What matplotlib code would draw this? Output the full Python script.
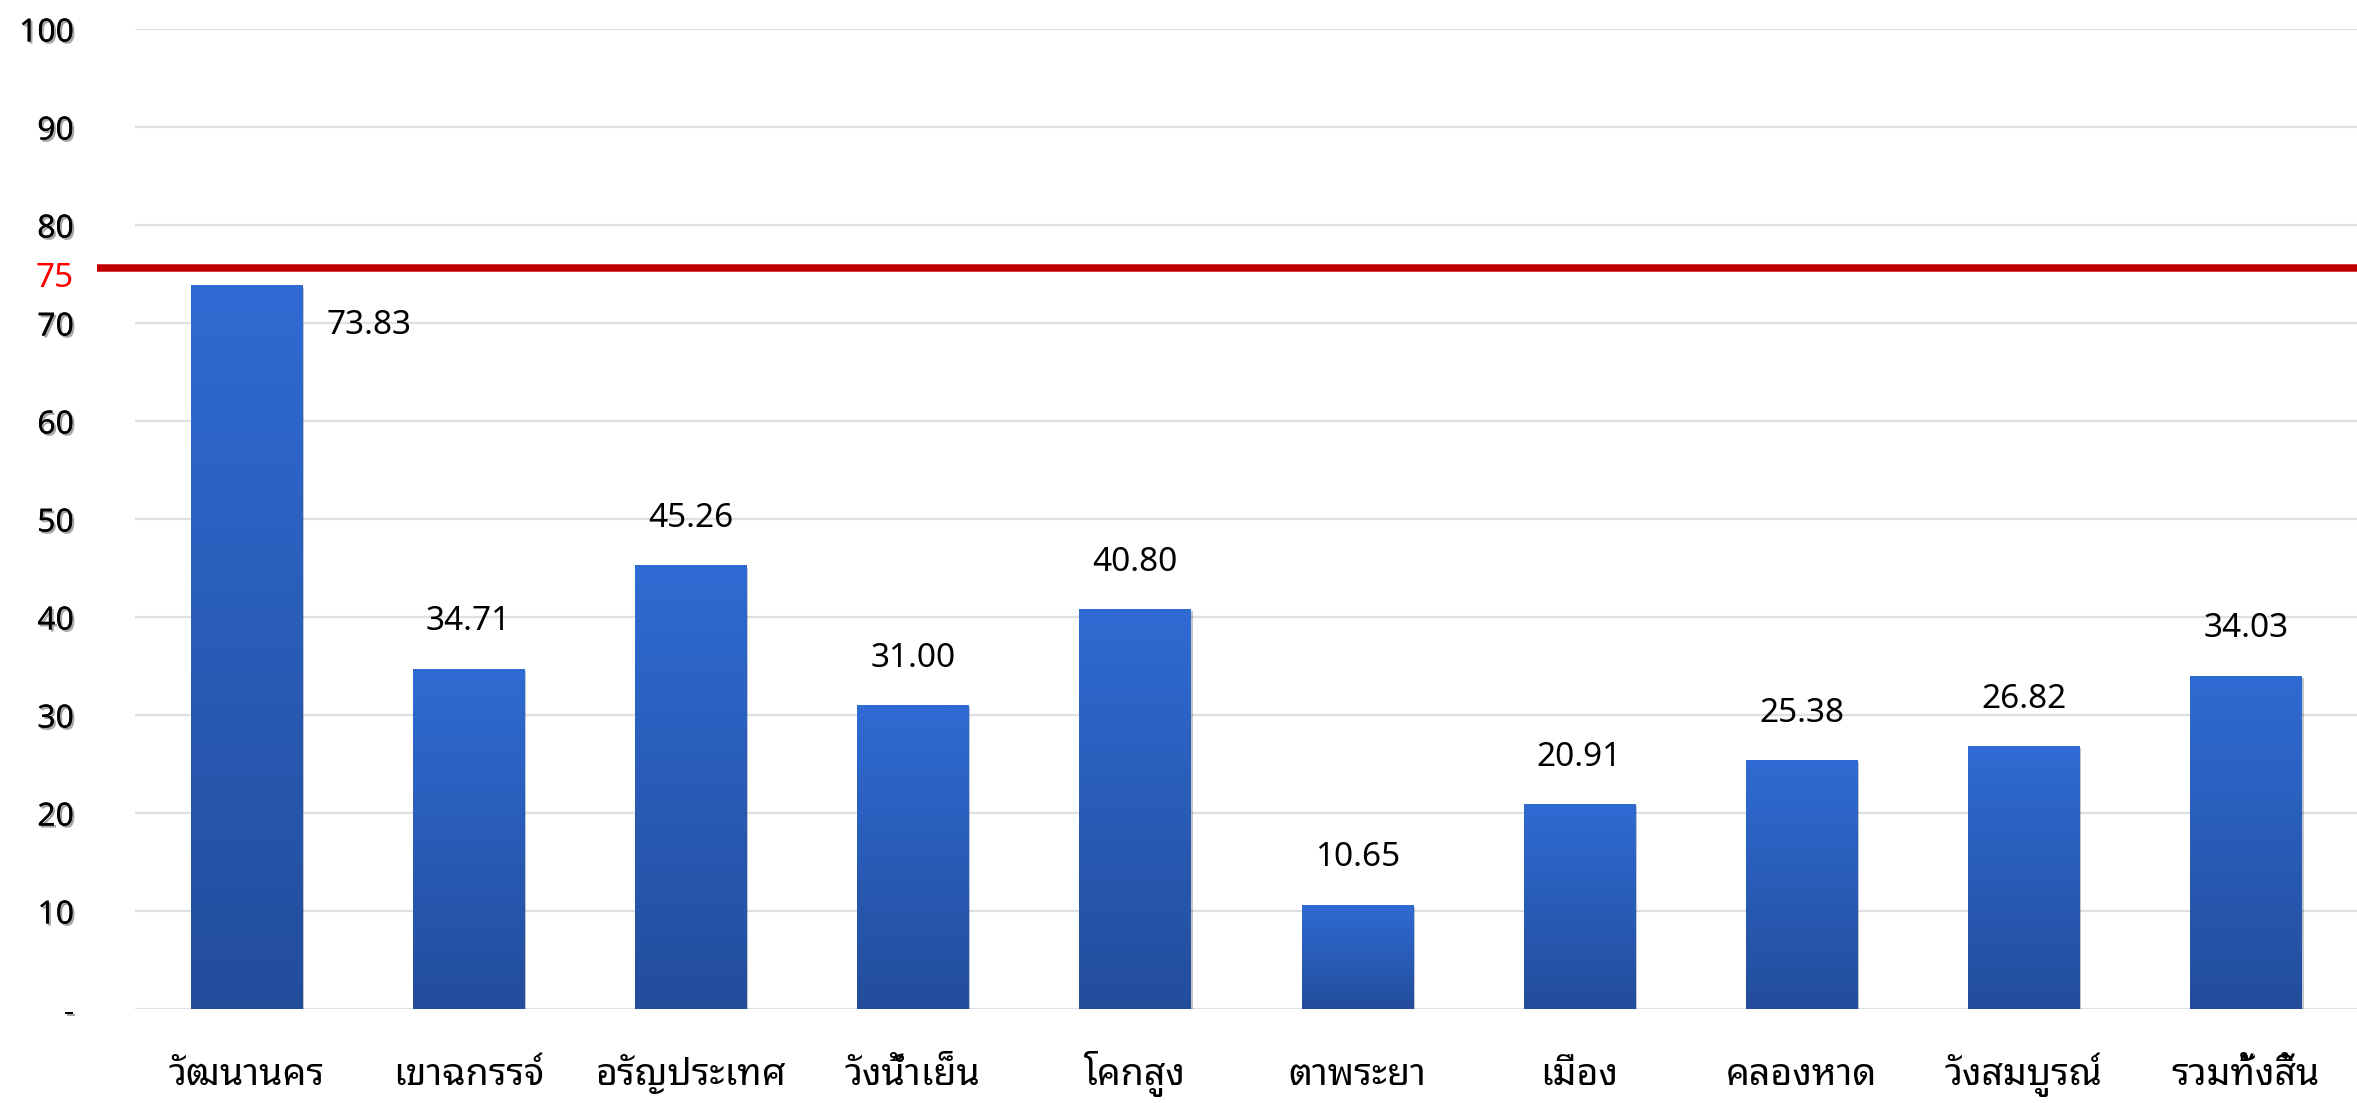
import numpy as np
import matplotlib
matplotlib.use("Agg")
import matplotlib.pyplot as plt
import matplotlib.patheffects as pe
from matplotlib.colors import LinearSegmentedColormap
from matplotlib.transforms import blended_transform_factory, ScaledTranslation

# data
districts = ["วัฒนานคร", "เขาฉกรรจ์", "อรัญประเทศ", "วังน้ำเย็น", "โคกสูง",
             "ตาพระยา", "เมือง", "คลองหาด", "วังสมบูรณ์", "รวมทั้งสิ้น"]
values = [73.83, 34.71, 45.26, 31.00, 40.80, 10.65, 20.91, 25.38, 26.82, 34.03]
y_ticks = [0, 10, 20, 30, 40, 50, 60, 70, 80, 90, 100]
y_tick_labels = ["-", "10", "20", "30", "40", "50", "60", "70", "80", "90", "100"]
target = 75

thai_font = ["Noto Sans Thai Looped", "DejaVu Sans"]
num_font = ["Noto Sans", "DejaVu Sans"]

fig = plt.figure(figsize=(23.57, 11.03), dpi=100)
ax = fig.add_axes([0.0573, 0.0852, 0.9427, 0.8885])

x = np.arange(len(districts))
bars = ax.bar(x, values, width=0.5, color="#2A5DBA", zorder=3)

# vertical gradient inside each bar (light on top, dark at bottom)
cmap = LinearSegmentedColormap.from_list("bar", ["#234D9B", "#2F6BD3"])
grad = np.linspace(0, 1, 256).reshape(-1, 1)
for b in bars:
    b.set_path_effects([pe.withSimplePatchShadow(offset=(1.5, -1.5), alpha=0.25)])
    x0, w, h = b.get_x(), b.get_width(), b.get_height()
    im = ax.imshow(grad, cmap=cmap, origin="lower", aspect="auto",
                   extent=(x0, x0 + w, 0, h), zorder=4)
    im.set_clip_path(b)

# grid lines
for t in y_ticks:
    ax.axhline(t, color="#DCDFE4", lw=1.6, zorder=1)

# target line, reaching left past the axis (sits a touch high in the original)
tr = blended_transform_factory(fig.transFigure, ax.transData) + \
    ScaledTranslation(0, 4 / 72, fig.dpi_scale_trans)
ax.plot([97 / 2357, 1.0], [target, target], transform=tr, color="#C00000",
        lw=5.4, clip_on=False, zorder=5, solid_capstyle="butt")

ax.set_xlim(-0.5, len(districts) - 0.5)
ax.set_ylim(0, 100)
for s in ax.spines.values():
    s.set_visible(False)

ax.set_yticks(y_ticks + [target])
ax.set_yticklabels(y_tick_labels + [str(target)])
ax.tick_params(axis="y", length=0, pad=44, labelsize=23)
shadow = [pe.withSimplePatchShadow(offset=(1.5, -1.5), alpha=0.35), pe.Normal()]
for lab in ax.get_yticklabels():
    lab.set_family(num_font)
    if lab.get_text() == str(target):
        lab.set_color("#FF0000")
        lab.set_fontsize(24)
    else:
        lab.set_path_effects(shadow)

ax.set_xticks(x)
ax.set_xticklabels(districts, family=thai_font, fontsize=27, va="baseline")
ax.tick_params(axis="x", length=0, pad=55)

# value labels
for i, v in enumerate(values):
    if i == 0:
        ax.annotate(f"{v:.2f}", (x[i] + 0.25, v), xytext=(18, -29),
                    textcoords="offset points", ha="left", va="center",
                    fontsize=24, family=num_font, zorder=6)
    else:
        ax.annotate(f"{v:.2f}", (x[i], v), xytext=(0, 22),
                    textcoords="offset points", ha="center", va="bottom",
                    fontsize=24, family=num_font, zorder=6)

fig.savefig("out.png", dpi=100)
